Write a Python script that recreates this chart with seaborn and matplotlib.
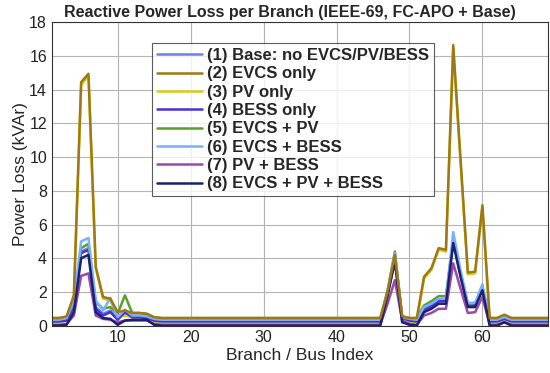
import numpy as np
import pandas as pd
import matplotlib
matplotlib.use("Agg")
import matplotlib.pyplot as plt
import seaborn as sns

# ---------------- data ----------------
branch_idx = list(range(1, 70))

series_names = [
    "(1) Base: no EVCS/PV/BESS",
    "(2) EVCS only",
    "(3) PV only",
    "(4) BESS only",
    "(5) EVCS + PV",
    "(6) EVCS + BESS",
    "(7) PV + BESS",
    "(8) EVCS + PV + BESS",
]

base = [0.3, 0.3, 0.35, 1.2, 4.4, 4.6, 1.1, 0.7, 0.9, 0.4, 0.75, 0.55, 0.55, 0.5, 0.35, 0.3,
        0.3, 0.3, 0.3, 0.3, 0.3, 0.3, 0.3, 0.3, 0.3, 0.3, 0.3, 0.3, 0.3, 0.3, 0.3, 0.3, 0.3, 0.3, 0.3,
        0.3, 0.3, 0.3, 0.3, 0.3, 0.3, 0.3, 0.3, 0.3, 0.3,
        0.3, 1.9, 4.1, 0.5, 0.35, 0.3, 1.0, 1.2, 1.5, 1.5, 5.2, 3.1, 1.2, 1.25, 2.2, 0.3, 0.3, 0.45,
        0.3, 0.3, 0.3, 0.3, 0.3, 0.3]
evcs = [0.45, 0.45, 0.55, 1.8, 14.45, 14.95, 3.5, 1.7, 1.6, 0.8, 0.9, 0.75, 0.75, 0.7, 0.5, 0.45,
        0.45, 0.45, 0.45, 0.45, 0.45, 0.45, 0.45, 0.45, 0.45, 0.45, 0.45, 0.45, 0.45, 0.45, 0.45, 0.45, 0.45, 0.45, 0.45,
        0.45, 0.45, 0.45, 0.45, 0.45, 0.45, 0.45, 0.45, 0.45, 0.45,
        0.45, 2.0, 4.2, 0.55, 0.45, 0.45, 2.9, 3.4, 4.6, 4.5, 16.65, 9.9, 3.15, 3.2, 7.15, 0.45, 0.45, 0.65,
        0.45, 0.45, 0.45, 0.45, 0.45, 0.45]
pv = [0.18, 0.18, 0.3, 1.6, 14.3, 14.8, 3.4, 1.6, 1.5, 0.5, 0.6, 0.5, 0.5, 0.45, 0.25, 0.18,
      0.18, 0.18, 0.18, 0.18, 0.18, 0.18, 0.18, 0.18, 0.18, 0.18, 0.18, 0.18, 0.18, 0.18, 0.18, 0.18, 0.18, 0.18, 0.18,
      0.18, 0.18, 0.18, 0.18, 0.18, 0.18, 0.18, 0.18, 0.18, 0.18,
      0.18, 1.8, 3.9, 0.4, 0.25, 0.18, 2.8, 3.3, 4.5, 4.4, 16.45, 9.7, 3.05, 3.1, 7.0, 0.18, 0.18, 0.35,
      0.18, 0.18, 0.18, 0.18, 0.18, 0.18]
bess = [0.25, 0.25, 0.3, 1.1, 4.3, 4.5, 1.0, 0.6, 0.8, 0.35, 0.8, 0.5, 0.5, 0.45, 0.3, 0.25,
        0.25, 0.25, 0.25, 0.25, 0.25, 0.25, 0.25, 0.25, 0.25, 0.25, 0.25, 0.25, 0.25, 0.25, 0.25, 0.25, 0.25, 0.25, 0.25,
        0.25, 0.25, 0.25, 0.25, 0.25, 0.25, 0.25, 0.25, 0.25, 0.25,
        0.25, 1.85, 4.0, 0.45, 0.3, 0.25, 0.95, 1.15, 1.45, 1.45, 5.1, 3.0, 1.15, 1.2, 2.15, 0.25, 0.25, 0.4,
        0.25, 0.25, 0.25, 0.25, 0.25, 0.25]
evcs_pv = [0.45, 0.45, 0.5, 1.3, 4.6, 4.85, 1.4, 1.0, 1.1, 0.7, 1.8, 0.75, 0.75, 0.7, 0.5, 0.45,
           0.45, 0.45, 0.45, 0.45, 0.45, 0.45, 0.45, 0.45, 0.45, 0.45, 0.45, 0.45, 0.45, 0.45, 0.45, 0.45, 0.45, 0.45, 0.45,
           0.45, 0.45, 0.45, 0.45, 0.45, 0.45, 0.45, 0.45, 0.45, 0.45,
           0.45, 2.1, 4.4, 0.55, 0.45, 0.45, 1.2, 1.45, 1.75, 1.75, 5.0, 3.1, 1.3, 1.35, 2.2, 0.45, 0.45, 0.6,
           0.45, 0.45, 0.45, 0.45, 0.45, 0.45]
evcs_bess = [0.35, 0.35, 0.45, 1.5, 5.0, 5.2, 1.5, 0.9, 1.65, 0.5, 0.95, 0.6, 0.6, 0.55, 0.4, 0.35,
             0.35, 0.35, 0.35, 0.35, 0.35, 0.35, 0.35, 0.35, 0.35, 0.35, 0.35, 0.35, 0.35, 0.35, 0.35, 0.35, 0.35, 0.35, 0.35,
             0.35, 0.35, 0.35, 0.35, 0.35, 0.35, 0.35, 0.35, 0.35, 0.35,
             0.35, 2.0, 4.3, 0.5, 0.4, 0.35, 1.1, 1.3, 1.6, 1.6, 5.55, 3.3, 1.35, 1.35, 2.45, 0.35, 0.35, 0.5,
             0.35, 0.35, 0.35, 0.35, 0.35, 0.35]
pv_bess = [0.05, 0.05, 0.1, 0.6, 2.95, 3.1, 0.6, 0.4, 0.35, 0.2, 0.3, 0.3, 0.3, 0.3, 0.1, 0.05,
           0.05, 0.05, 0.05, 0.05, 0.05, 0.05, 0.05, 0.05, 0.05, 0.05, 0.05, 0.05, 0.05, 0.05, 0.05, 0.05, 0.05, 0.05, 0.05,
           0.05, 0.05, 0.05, 0.05, 0.05, 0.05, 0.05, 0.05, 0.05, 0.05,
           0.05, 1.3, 2.7, 0.3, 0.1, 0.05, 0.6, 0.75, 1.0, 1.0, 3.7, 2.2, 0.75, 0.8, 1.7, 0.05, 0.05, 0.2,
           0.05, 0.05, 0.05, 0.05, 0.05, 0.05]
all_three = [0.0, 0.0, 0.05, 0.8, 4.0, 4.2, 0.8, 0.45, 0.4, 0.05, 0.3, 0.35, 0.35, 0.35, 0.05, 0.0,
             0.0, 0.0, 0.0, 0.0, 0.0, 0.0, 0.0, 0.0, 0.0, 0.0, 0.0, 0.0, 0.0, 0.0, 0.0, 0.0, 0.0, 0.0, 0.0,
             0.0, 0.0, 0.0, 0.0, 0.0, 0.0, 0.0, 0.0, 0.0, 0.0,
             0.0, 1.8, 3.8, 0.2, 0.05, 0.0, 0.8, 1.0, 1.3, 1.3, 4.9, 2.9, 1.1, 1.1, 2.1, 0.0, 0.0, 0.2,
             0.0, 0.0, 0.0, 0.0, 0.0, 0.0]

series_values = [base, evcs, pv, bess, evcs_pv, evcs_bess, pv_bess, all_three]
colors = ["#6e7fe6", "#a07812", "#d6cb17", "#4a2ee0", "#5b9f2b", "#78b0ff", "#9a48ad", "#1b2070"]

x_ticks = [10, 20, 30, 40, 50, 60]
y_ticks = [0, 2, 4, 6, 8, 10, 12, 14, 16, 18]

# ---------------- build frame ----------------
rows = []
for name, vals in zip(series_names, series_values):
    for xi, v in zip(branch_idx, vals):
        rows.append((name, xi, v))
df = pd.DataFrame(rows, columns=["Scenario", "Branch", "Loss"])

# ---------------- plot ----------------
sns.set_style("white")
plt.rcParams["font.family"] = ["Liberation Sans", "DejaVu Sans"]

fig = plt.figure(figsize=(5.5, 3.73), dpi=100)
ax = fig.add_axes([0.0945, 0.127, 0.902, 0.813])

sns.lineplot(data=df, x="Branch", y="Loss", hue="Scenario", hue_order=series_names,
             palette=colors, linewidth=1.8, ax=ax, legend=True)

# put the EVCS-only line above the PV-only line so the tall peaks read brown/olive
lines = ax.get_lines()
if len(lines) >= 3:
    lines[1].set_zorder(lines[2].get_zorder() + 0.5)

ax.set_xlim(1, 69)
ax.set_ylim(0, 18)
ax.set_xticks(x_ticks)
ax.set_yticks(y_ticks)
ax.grid(True, color="#b4b4b4", linewidth=0.8)
ax.set_axisbelow(True)
for s in ax.spines.values():
    s.set_color("#333333")
    s.set_linewidth(0.8)
ax.tick_params(axis="both", labelsize=11.5, direction="in", length=3, colors="#222222")

ax.set_xlabel("Branch / Bus Index", fontsize=12.5, labelpad=2)
ax.set_ylabel("Power Loss (kVAr)", fontsize=12.5, labelpad=1)
ax.set_title("Reactive Power Loss per Branch (IEEE-69, FC-APO + Base)",
             fontsize=11.5, fontweight="bold", pad=4, x=0.48)

handles, labels = ax.get_legend_handles_labels()
leg = ax.legend(handles, labels, loc="upper left", bbox_to_anchor=(0.2016, 0.932),
                borderaxespad=0, frameon=True, fancybox=False, edgecolor="#333333",
                prop={"weight": "bold", "size": 12}, handlelength=2.7,
                labelspacing=0.2, borderpad=0.3, handletextpad=0.3)
leg.get_frame().set_linewidth(0.8)
for lh in leg.get_lines():
    lh.set_linewidth(1.8)

fig.savefig("out.png", dpi=100)
